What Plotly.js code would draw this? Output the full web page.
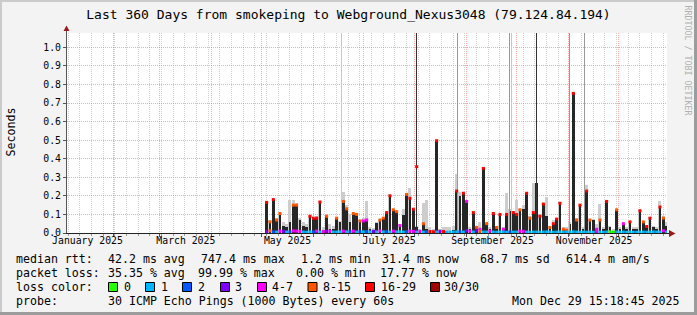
<!DOCTYPE html>
<html><head><meta charset="utf-8">
<script src="https://cdn.plot.ly/plotly-3.0.1.min.js"></script>
<style>html,body{margin:0;padding:0;background:#f3f3f3;}#chart{width:697px;height:315px;}</style>
</head><body><div id="chart"></div>
<script>
// ---------- DATA ----------
const binDates = [
'2025-05-04','2025-05-06','2025-05-08','2025-05-10','2025-05-12','2025-05-14','2025-05-16','2025-05-18','2025-05-20','2025-05-22','2025-05-24','2025-05-26','2025-05-28','2025-05-30',
'2025-06-01','2025-06-03','2025-06-05','2025-06-07','2025-06-09','2025-06-11','2025-06-13','2025-06-15','2025-06-17','2025-06-19','2025-06-21','2025-06-23','2025-06-25','2025-06-27','2025-06-29',
'2025-07-01','2025-07-03','2025-07-05','2025-07-07','2025-07-09','2025-07-11','2025-07-13','2025-07-15','2025-07-17','2025-07-19','2025-07-21','2025-07-23','2025-07-25','2025-07-27','2025-07-29','2025-07-31',
'2025-08-02','2025-08-04','2025-08-06','2025-08-08','2025-08-10','2025-08-12','2025-08-14','2025-08-16','2025-08-18','2025-08-20','2025-08-22','2025-08-24','2025-08-26','2025-08-28','2025-08-30',
'2025-09-01','2025-09-03','2025-09-05','2025-09-07','2025-09-09','2025-09-11','2025-09-13','2025-09-15','2025-09-17','2025-09-19','2025-09-21','2025-09-23','2025-09-25','2025-09-27','2025-09-29',
'2025-10-01','2025-10-03','2025-10-05','2025-10-07','2025-10-09','2025-10-11','2025-10-13','2025-10-15','2025-10-17','2025-10-19','2025-10-21','2025-10-23','2025-10-25','2025-10-27','2025-10-29','2025-10-31',
'2025-11-02','2025-11-04','2025-11-06','2025-11-08','2025-11-10','2025-11-12','2025-11-14','2025-11-16','2025-11-18','2025-11-20','2025-11-22','2025-11-24','2025-11-26','2025-11-28','2025-11-30',
'2025-12-02','2025-12-04','2025-12-06','2025-12-08','2025-12-10','2025-12-12','2025-12-14','2025-12-16','2025-12-18','2025-12-20','2025-12-22','2025-12-24','2025-12-26','2025-12-28','2025-12-30'];

// dense smoke top (seconds)
const darkTop = [
.165,.06,.18,.07,.105,.04,.035,.06,.15,.15,.07,.04,.03,.09,.08,.08,.167,.015,.09,.02,.02,.08,
.06,.17,.13,.06,.105,.10,.065,.065,.07,.02,.015,.055,.07,.08,.11,.20,.125,.115,.04,.097,.208,.187,.128,.03,
.01,.05,.02,.01,.01,.497,.01,.015,.01,.01,.015,.226,.20,.214,.17,.02,.11,.03,.02,.348,.05,.02,.105,.03,
.10,.02,.10,.12,.11,.10,.125,.128,.214,.08,.11,.268,.09,.156,.09,.03,.05,.075,.16,.02,.015,.05,.752,.07,.15,
.02,.226,.07,.07,.02,.07,.02,.17,.03,.01,.125,.02,.05,.02,.06,.02,.02,.12,.06,.035,.08,.03,.02,.14,.08,.04];

// light smoke top (seconds)
const greyTop = [
.17,.07,.185,.08,.11,.06,.05,.18,.18,.16,.08,.06,.05,.09,.08,.09,.17,.03,.10,.05,.04,.085,
.065,.22,.15,.10,.11,.10,.07,.08,.17,.03,.025,.06,.075,.085,.115,.21,.13,.12,.05,.13,.21,.24,.13,.04,
.02,.16,.18,.03,.02,.50,.02,.03,.03,.03,.04,.32,.22,.22,.17,.03,.115,.04,.06,.35,.06,.03,.11,.04,
.105,.03,.214,.13,.12,.18,.13,.15,.22,.09,.27,.27,.10,.16,.196,.04,.07,.08,.165,.03,.03,.06,.755,.08,.15,
.03,.26,.075,.075,.05,.156,.03,.175,.04,.02,.13,.03,.06,.03,.065,.03,.03,.125,.065,.04,.085,.04,.03,.17,.09,.06];

// loss class of the median drawn at the smoke top ('' = none)
const topLoss = [
'r','o','r','o','o','','','','o','o','','','','r','r','r','r','','o','','','o',
'','o','o','','o','o','o','m','m','','','','o','o','r','r','o','o','m','','o','r','r','',
'','o','','','','r','','','','','','r','','r','m','','r','o','m','r','o','','r','o',
'r','m','r','','r','r','o','','r','o','r','','r','r','','o','r','r','r','o','o','','r','o','r',
'','r','o','','m','o','','r','','','o','','m','','r','','','r','o','r','r','','','r','o',''];

// loss class of the low median line
const lowLoss = [
'v','o','b','c','m','v','c','b','m','m','m','c','c','c','b','m','c','m','v','m','c','c',
'c','m','c','b','m','c','b','c','b','c','v','c','m','c','b','c','m','c','c','c','b','m','m','c',
'm','c','b','r','r','c','v','r','c','c','c','c','b','c','v','m','c','v','o','c','c','m','c','c',
'c','c','c','b','c','c','m','m','c','c','c','c','c','c','c','c','c','c','c','c','c','c','c','c','c',
'c','c','c','c','m','c','c','c','g','g','c','c','c','c','c','c','c','c','c','c','c','c','c','c','m','c'];

const lowMedian = [
.008,.012,.006,.005,.01,.009,.005,.006,.011,.01,.009,.005,.004,.006,.006,.01,.005,.008,.009,.01,.005,.005,
.006,.01,.006,.007,.01,.005,.007,.006,.008,.005,.009,.006,.011,.006,.007,.005,.01,.006,.006,.005,.007,.01,.009,.005,
.009,.005,.006,.008,.007,.005,.009,.008,.004,.005,.005,.006,.007,.005,.012,.01,.005,.012,.009,.005,.005,.01,.005,.004,
.005,.005,.004,.006,.005,.005,.01,.009,.005,.004,.005,.005,.004,.005,.006,.005,.004,.005,.005,.004,.005,.005,.006,.005,.004,
.005,.004,.005,.004,.009,.005,.004,.005,.006,.005,.005,.004,.005,.004,.005,.004,.004,.005,.005,.004,.005,.006,.005,.005,.012,.006];

// isolated tall smoke spikes (clipped at the top)
const spikeDates  = ['2025-06-18','2025-08-02','2025-08-26 18:00','2025-09-27','2025-09-28','2025-10-13','2025-11-02','2025-11-11'];
const spikeValues = [1.1,1.1,1.1,1.1,1.1,1.1,1.1,1.1];
const spikeShade  = ['light','dark','mid','mid','light','dark','mid','mid'];
const spikeMarkDates = ['2025-08-02'];
const spikeMarkValues = [0.357];
const spikeMarkLoss = ['r'];

const monthLabelDates = ['2025-01-16 12:00','2025-03-16 12:00','2025-05-16 12:00','2025-07-16 12:00','2025-09-16 12:00','2025-11-16 12:00'];
const monthLabels = ['January 2025','March 2025','May 2025','July 2025','September 2025','November 2025'];

const lossKeys = ['g','c','b','v','m','o','r','d'];
const lossLabels = ['0','1','2','3','4-7','8-15','16-29','30/30'];
const rttStats = ['42.2 ms avg','747.4 ms max','1.2 ms min','31.4 ms now','68.7 ms sd','614.4 m am/s'];
const lossStats = ['35.35 % avg','99.99 % max','0.00 % min','17.77 % now'];
const probeText = '30 ICMP Echo Pings (1000 Bytes) every 60s';
const stampText = 'Mon Dec 29 15:18:45 2025';

// ---------- STYLE ----------
const MONO = 'DejaVu Sans Mono, monospace';
const DAY = 86400000;
const lossColor = {g:'#26ff00',c:'#00b8ff',b:'#0059ff',v:'#7e00ff',m:'#ff00ff',o:'#ff5500',r:'#ff0000',d:'#a10000'};
const shadeColor = {light:'#c8c8c8', mid:'#9a9a9a', dark:'#333333'};
const W=697,H=315,L=67,R=30,T=33,B=82;
const PW=W-L-R, PH=H-T-B;
const PX = x => (x-L)/PW;
const PY = y => (T+PH-y)/PH;

// ---------- TRACES ----------
const topIdx = topLoss.map((c,i)=>c?i:-1).filter(i=>i>=0);
const traces = [
 {type:'bar', x:binDates, y:greyTop, width:1.8*DAY, marker:{color:'#cdcdcd', line:{width:0}}, hoverinfo:'skip'},
 {type:'bar', x:binDates, y:darkTop, width:1.5*DAY, marker:{color:'#262626', line:{width:0}}, hoverinfo:'skip'},
 {type:'bar', x:spikeDates, y:spikeValues, width:0.6*DAY, marker:{color:spikeShade.map(s=>shadeColor[s]), line:{width:0}}, hoverinfo:'skip'},
 {type:'scatter', mode:'markers', x:topIdx.map(i=>binDates[i]), y:topIdx.map(i=>darkTop[i]),
  marker:{symbol:'square', size:3, color:topIdx.map(i=>lossColor[topLoss[i]]), line:{width:0}}, hoverinfo:'skip'},
 {type:'scatter', mode:'markers', x:spikeMarkDates, y:spikeMarkValues,
  marker:{symbol:'square', size:3, color:spikeMarkLoss.map(c=>lossColor[c]), line:{width:0}}, hoverinfo:'skip'},
 {type:'scatter', mode:'markers', x:binDates, y:lowMedian,
  marker:{symbol:'square', size:3, color:lowLoss.map(c=>lossColor[c]), line:{width:0}}, hoverinfo:'skip'},
 {type:'scatter', x:[], y:[], xaxis:'x2', yaxis:'y', hoverinfo:'skip'}
];

// ---------- ANNOTATIONS ----------
const ann = [];
function txt(text,x,y,extra){ ann.push(Object.assign({text:text, xref:'paper', yref:'paper', x:PX(x), y:PY(y),
  xanchor:'left', yanchor:'middle', showarrow:false, borderpad:0, font:{family:MONO,size:11.6,color:'#000'}}, extra||{})); }
txt('median rtt:',15,259);
[107,199.5,299.5,380.5,478.5,564.5].forEach((x,i)=>txt(rttStats[i],x,259));
txt('packet loss:',15,273);
[107,197,294.5,378.5].forEach((x,i)=>txt(lossStats[i],x,273));
txt('loss color:',15,287);
const boxX=[108,145,182,220,257,307.5,365,430];
const labX=[123,159.5,196.5,233.5,270.5,321.5,379.5,443.5];
lossLabels.forEach((l,i)=>txt(l,labX[i],287));
txt('probe:',15,301);
txt(probeText,107,301);
txt(stampText,681,301,{xanchor:'right'});
txt('Seconds',10.5,132,{xanchor:'center',textangle:-90});
txt('RRDTOOL / TOBI OETIKER',687.5,60,{xanchor:'center',textangle:90,font:{family:MONO,size:8.3,color:'#b0b0b0'}});

// ---------- SHAPES ----------
const shapes = [];
function rectPx(x0,y0,x1,y1,fill,line){ shapes.push({type:'rect',xref:'paper',yref:'paper',x0:PX(x0),x1:PX(x1),y0:PY(y1),y1:PY(y0),
  fillcolor:fill, line:line||{width:0}, layer:'above'}); }
function pathPx(pts,fill){ shapes.push({type:'path',xref:'paper',yref:'paper',
  path:'M'+pts.map(p=>PX(p[0])+','+PY(p[1])).join(' L')+' Z', fillcolor:fill, line:{width:0}, layer:'above'}); }
function linePx(x0,y0,x1,y1,color){ shapes.push({type:'line',xref:'paper',yref:'paper',x0:PX(x0),y0:PY(y0),x1:PX(x1),y1:PY(y1),
  line:{color:color,width:1}, layer:'above'}); }
boxX.forEach((x,i)=>rectPx(x+0.5,282.5,x+9.5,291.5,lossColor[lossKeys[i]],{color:'#000',width:1}));
linePx(66.5,233.5,66.5,29,'#555');
linePx(66,233.5,671,233.5,'#222');
pathPx([[63.5,31],[69.5,31],[66.5,25.5]],'#9a1a1a');
pathPx([[669,230],[669,237],[675.5,233.5]],'#9a1a1a');
// frame shading
rectPx(0,0,697,2,'#cbcbcb'); rectPx(0,0,2,315,'#cbcbcb');
rectPx(694,0,697,315,'#9c9c9c'); rectPx(0,312,697,315,'#9c9c9c');

const range = ['2025-01-04 05:00','2025-12-30 05:00'];
const layout = {
 width:W, height:H, margin:{l:L,r:R,t:T,b:B,autoexpand:false},
 paper_bgcolor:'#f3f3f3', plot_bgcolor:'#ffffff', showlegend:false, hovermode:false, barmode:'overlay', bargap:0,
 title:{text:'Last 360 Days from smokeping to Webground_Nexus3048 (79.124.84.194)', font:{family:MONO,size:13,color:'#000'},
   xref:'container', yref:'container', x:0.5, xanchor:'center', y:1-14/H, yanchor:'middle'},
 xaxis:{type:'date', range:range, fixedrange:true, showticklabels:false, dtick:'M1', tick0:'2025-01-01',
   showgrid:true, gridcolor:'rgba(255,95,95,0.55)', griddash:'1px,1px', gridwidth:1,
   ticks:'outside', ticklen:3, tickcolor:'#555', showline:false, zeroline:false,
   minor:{dtick:7*DAY, tick0:'2025-01-05', showgrid:true, gridcolor:'#d2d2d2', griddash:'1px,1px', ticks:'outside', ticklen:2, tickcolor:'#999'}},
 xaxis2:{type:'date', overlaying:'x', anchor:'y', side:'bottom', range:range, fixedrange:true,
   tickmode:'array', tickvals:monthLabelDates, ticktext:monthLabels, showgrid:false, zeroline:false, showline:false, ticks:'',
   tickfont:{family:MONO,size:9.8,color:'#000'}},
 yaxis:{range:[0,1.077], fixedrange:true, dtick:0.1, tick0:0, tickformat:'.1f', showgrid:true,
   gridcolor:'rgba(255,95,95,0.55)', griddash:'1px,1px', gridwidth:1, zeroline:false, showline:false,
   ticks:'outside', ticklen:3, tickcolor:'#555', tickfont:{family:MONO,size:9.8,color:'#000'}},
 annotations:ann, shapes:shapes
};
Plotly.newPlot('chart', traces, layout, {staticPlot:true, displayModeBar:false});
</script></body></html>
